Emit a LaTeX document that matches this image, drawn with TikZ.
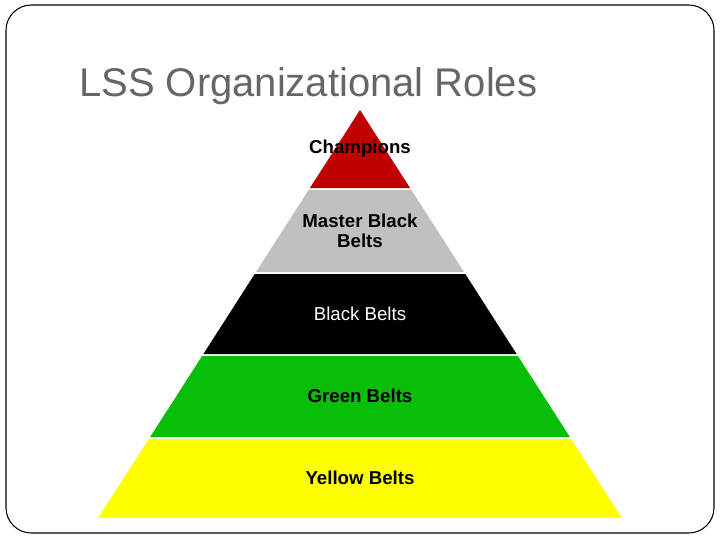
\documentclass[tikz,border=0pt]{standalone}
\usepackage{fontspec}
\setmainfont{Liberation Sans}
\definecolor{titlegray}{HTML}{666666}
\definecolor{lred}{HTML}{C00000}
\definecolor{lgray}{HTML}{C0C0C0}
\definecolor{lgreen}{HTML}{08BE08}
\definecolor{lyellow}{HTML}{FFFF00}
\tikzset{
  layer/.style={draw=none},
  lbl/.style={font=\fontsize{14}{15}\selectfont\bfseries, align=center, inner sep=0pt, text=black},
}
\begin{document}
\begin{tikzpicture}[x=0.75pt,y=-0.75pt]
\useasboundingbox (0,0) rectangle (720,540);
\fill[white] (0,0) rectangle (720,540);
\draw[black, line width=0.8pt, rounded corners=19pt] (6,5) rectangle (714,533);
\node[anchor=base west, inner sep=0pt, text=titlegray, font=\fontsize{30}{36}\selectfont] (title) at (79,96) {LSS Organizational Roles};
% layers
\fill[lred] (360,110) -- (410.1,188) -- (309.9,188) -- cycle;
\fill[lgray] (308.6,190) -- (411.4,190) -- (464,272) -- (256,272) -- cycle;
\fill[black] (254.7,274) -- (465.3,274) -- (516.6,354) -- (203.4,354) -- cycle;
\fill[lgreen] (202.1,356) -- (517.9,356) -- (569.9,437) -- (150.1,437) -- cycle;
\fill[lyellow] (148.8,439) -- (571.2,439) -- (621.9,518) -- (98.1,518) -- cycle;
% labels
\node[lbl] (champ) at (360,149) {Champions};
\node[lbl] (mbb) at (360,231) {Master Black\\Belts};
\node[lbl, font=\fontsize{14}{15}\selectfont, text=white] (bb) at (360,314) {Black Belts};
\node[lbl] (gb) at (360,396) {Green Belts};
\node[lbl] (yb) at (360,478) {Yellow Belts};
\end{tikzpicture}
\end{document}
